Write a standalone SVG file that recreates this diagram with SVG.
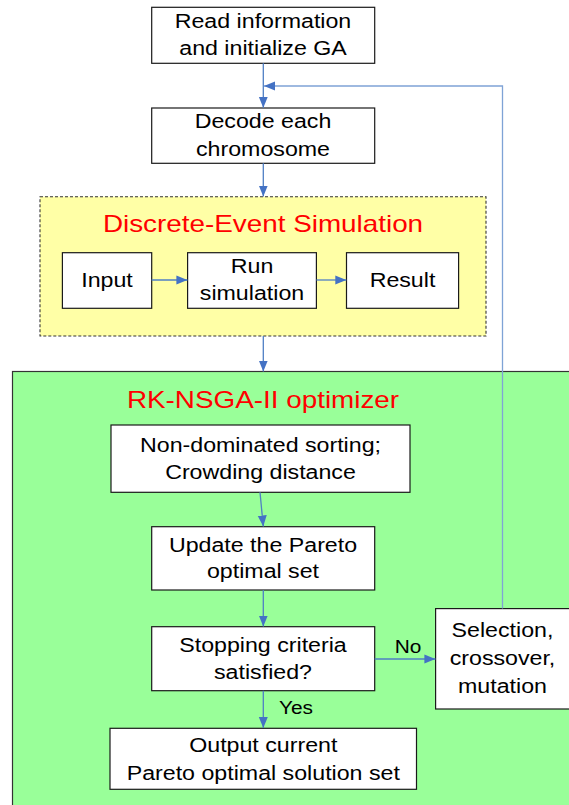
<svg xmlns="http://www.w3.org/2000/svg" width="569" height="805" viewBox="0 0 569 805">
  <defs>
    <style>
      .box { fill: #ffffff; stroke: #1a1a1a; stroke-width: 1.2; }
      .lbl { font-family: "Liberation Sans", Arial, sans-serif; font-size: 20px; fill: #000000; text-anchor: middle; }
      .small { font-size: 18px; }
      .title { font-family: "Liberation Sans", Arial, sans-serif; font-size: 24px; fill: #ff0000; text-anchor: middle; }
      .link { fill: none; stroke: #4f7fc4; stroke-width: 1.3; }
      .loop { fill: none; stroke: #7fa3d6; stroke-width: 1.3; }
    </style>
    <marker id="arrow" markerUnits="userSpaceOnUse" markerWidth="12" markerHeight="10" viewBox="0 0 12 10" refX="11" refY="5" orient="auto">
      <path d="M0,0.5 L11,5 L0,9.5 Z" fill="#4472c4"/>
    </marker>
  </defs>

  <!-- optimizer container -->
  <g id="optimizer">
    <rect x="12.5" y="371.5" width="570" height="450" fill="#99ff99" stroke="#333333" stroke-width="1.2"/>
    <text class="title" transform="translate(263 408.3) scale(1.16 1)">RK-NSGA-II optimizer</text>
  </g>

  <!-- simulation container -->
  <g id="simulation">
    <rect x="40" y="196.7" width="446" height="139.3" fill="#ffffa6" stroke="#333333" stroke-width="1.1" stroke-dasharray="3 2"/>
    <text class="title" transform="translate(263 231.7) scale(1.16 1)">Discrete-Event Simulation</text>
  </g>

  <g id="init">
    <rect class="box" x="151.7" y="7.3" width="223" height="56"/>
    <text class="lbl" transform="translate(263 28.3) scale(1.16 1)">Read information</text>
    <text class="lbl" transform="translate(263 55) scale(1.16 1)">and initialize GA</text>
  </g>

  <g id="decode">
    <rect class="box" x="151.7" y="108" width="223" height="55.3"/>
    <text class="lbl" transform="translate(263 127.7) scale(1.16 1)">Decode each</text>
    <text class="lbl" transform="translate(263 156) scale(1.16 1)">chromosome</text>
  </g>

  <g id="input">
    <rect class="box" x="62.4" y="252.7" width="89.3" height="55.6"/>
    <text class="lbl" transform="translate(107 286.7) scale(1.16 1)">Input</text>
  </g>

  <g id="run">
    <rect class="box" x="187.6" y="252.7" width="128.8" height="55.6"/>
    <text class="lbl" transform="translate(252 272.7) scale(1.16 1)">Run</text>
    <text class="lbl" transform="translate(252 300) scale(1.16 1)">simulation</text>
  </g>

  <g id="result">
    <rect class="box" x="346.5" y="252.7" width="112.1" height="55.6"/>
    <text class="lbl" transform="translate(402.5 286.7) scale(1.16 1)">Result</text>
  </g>

  <g id="sorting">
    <rect class="box" x="111" y="425" width="299" height="67.3"/>
    <text class="lbl" transform="translate(260.5 451.7) scale(1.16 1)">Non-dominated sorting;</text>
    <text class="lbl" transform="translate(260.5 479) scale(1.16 1)">Crowding distance</text>
  </g>

  <g id="update">
    <rect class="box" x="151.7" y="526.7" width="223" height="63.3"/>
    <text class="lbl" transform="translate(263 551.7) scale(1.16 1)">Update the Pareto</text>
    <text class="lbl" transform="translate(263 578.3) scale(1.16 1)">optimal set</text>
  </g>

  <g id="stopping">
    <rect class="box" x="151.7" y="626.7" width="223" height="64"/>
    <text class="lbl" transform="translate(263 651.7) scale(1.16 1)">Stopping criteria</text>
    <text class="lbl" transform="translate(263 679.3) scale(1.16 1)">satisfied?</text>
  </g>

  <g id="operators">
    <rect class="box" x="435.6" y="608.6" width="140" height="100.4"/>
    <text class="lbl" transform="translate(502.5 636.7) scale(1.16 1)">Selection,</text>
    <text class="lbl" transform="translate(502.5 665) scale(1.16 1)">crossover,</text>
    <text class="lbl" transform="translate(502.5 693.3) scale(1.16 1)">mutation</text>
  </g>

  <g id="output">
    <rect class="box" x="110" y="728.3" width="306.5" height="61"/>
    <text class="lbl" transform="translate(263.3 751.7) scale(1.16 1)">Output current</text>
    <text class="lbl" transform="translate(263.3 780) scale(1.16 1)">Pareto optimal solution set</text>
  </g>

  <g id="connectors">
    <line class="link" x1="263.3" y1="63.3" x2="263.3" y2="107.8" marker-end="url(#arrow)"/>
    <polyline class="loop" points="502.5,608.6 502.5,86 264,86" marker-end="url(#arrow)"/>
    <line class="link" x1="263.3" y1="163.3" x2="263.3" y2="196.5" marker-end="url(#arrow)"/>
    <line class="link" x1="151.7" y1="280" x2="187.4" y2="280" marker-end="url(#arrow)"/>
    <line class="link" x1="316.4" y1="280" x2="346.3" y2="280" marker-end="url(#arrow)"/>
    <line class="link" x1="263.3" y1="336" x2="263.3" y2="371.5" marker-end="url(#arrow)"/>
    <line class="link" x1="260" y1="492.3" x2="263.3" y2="526.5" marker-end="url(#arrow)"/>
    <line class="link" x1="263.3" y1="590" x2="263.3" y2="626.5" marker-end="url(#arrow)"/>
    <line class="link" x1="374.7" y1="659" x2="435.4" y2="659" marker-end="url(#arrow)"/>
    <line class="link" x1="263.3" y1="690.7" x2="263.3" y2="728.1" marker-end="url(#arrow)"/>
    <text class="lbl small" transform="translate(408 653.3) scale(1.16 1)">No</text>
    <text class="lbl small" transform="translate(296 714) scale(1.16 1)">Yes</text>
  </g>
</svg>
